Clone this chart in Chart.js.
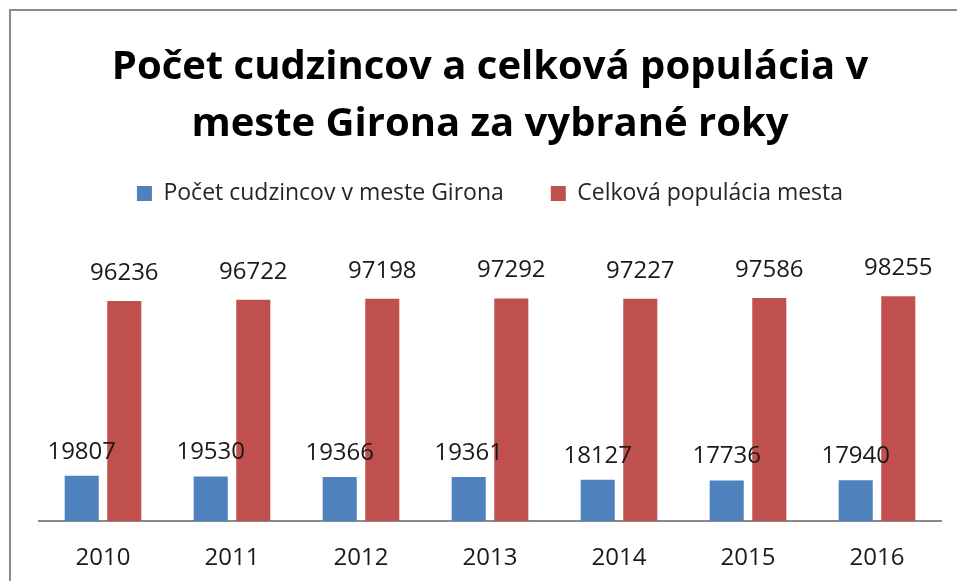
<!DOCTYPE html>
<html>
<head>
<meta charset="utf-8">
<script src="https://cdn.jsdelivr.net/npm/chart.js@4.4.1/dist/chart.umd.min.js"></script>
<style>
  html, body { margin: 0; padding: 0; background: #fff; overflow: hidden; width: 957px; height: 581px; }
  #frame { position: absolute; left: 9px; top: 9px; width: 990px; height: 620px;
           border-top: 2px solid #8a8a8a; border-left: 2px solid #8a8a8a; }
  #wrap { position: absolute; left: 11px; top: 11px; width: 960px; height: 598px; }
</style>
</head>
<body>
<div id="frame"></div>
<div id="wrap"><canvas id="chart"></canvas></div>
<script>
const years = ["2010", "2011", "2012", "2013", "2014", "2015", "2016"];
const foreigners = [19807, 19530, 19366, 19361, 18127, 17736, 17940];
const population = [96236, 96722, 97198, 97292, 97227, 97586, 98255];
const seriesNames = ["Počet cudzincov v meste Girona", "Celková populácia mesta"];
const titleLines = ["Počet cudzincov a celková populácia v", "meste Girona za vybrané roky"];

const font = "'Open Sans', 'Liberation Sans', sans-serif";

// popisky hodnôt nad stĺpcami
const valueLabels = {
  id: "valueLabels",
  afterDatasetsDraw(chart) {
    const ctx = chart.ctx;
    ctx.save();
    ctx.font = "24px " + font;
    ctx.fillStyle = "#1a1a1a";
    ctx.textAlign = "center";
    ctx.textBaseline = "middle";
    chart.data.datasets.forEach((ds, i) => {
      const meta = chart.getDatasetMeta(i);
      const off = i === 0 ? 24 : 28;
      meta.data.forEach((bar, j) => {
        ctx.fillText(String(ds.data[j]), bar.x, bar.y - off);
      });
    });
    ctx.restore();
  }
};

new Chart(document.querySelector("#chart"), {
  type: "bar",
  data: {
    labels: years,
    datasets: [
      { label: seriesNames[0], data: foreigners, backgroundColor: "#4f81bd" },
      { label: seriesNames[1], data: population, backgroundColor: "#c0504d" }
    ]
  },
  options: {
    responsive: true,
    maintainAspectRatio: false,
    animation: false,
    categoryPercentage: 0.66,
    barPercentage: 0.8,
    layout: { padding: { left: 27.5, right: 29.5, top: 0, bottom: 21 } },
    plugins: {
      title: {
        display: true,
        text: titleLines,
        color: "#000",
        font: { family: font, size: 40, weight: "bold", lineHeight: 1.425 },
        padding: { top: 28, bottom: -18 }
      },
      legend: {
        position: "top",
        labels: {
          color: "#262626",
          font: { family: font, size: 23 },
          boxWidth: 15,
          boxHeight: 15,
          padding: 47
        }
      },
      tooltip: { enabled: false }
    },
    scales: {
      x: {
        grid: { display: false },
        border: { color: "#8a8a8a", width: 2 },
        ticks: { color: "#1a1a1a", font: { family: font, size: 24 }, padding: 15 }
      },
      y: { display: false, min: 0, max: 133800 }
    }
  },
  plugins: [valueLabels]
});
</script>
</body>
</html>
